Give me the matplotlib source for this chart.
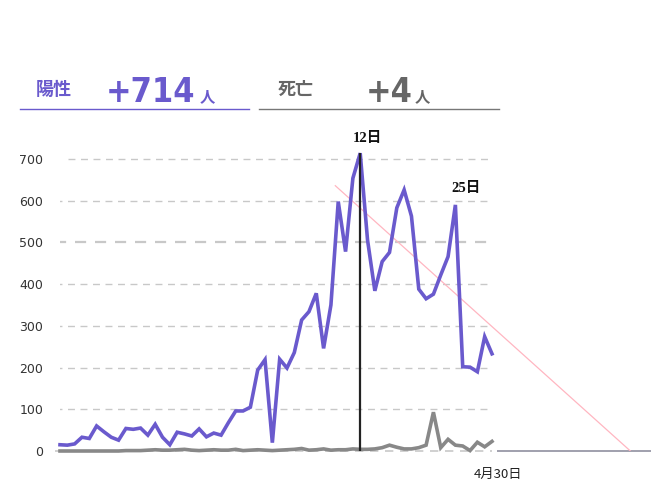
import matplotlib
matplotlib.use("Agg")
import matplotlib.pyplot as plt

# ---- data ----
day_labels = [f"3月{d}日" for d in range(2, 32)] + [f"4月{d}日" for d in range(1, 31)]
positives = [15, 14, 17, 33, 30, 60, 46, 33, 26, 54, 52, 55, 38, 64, 33, 15, 45, 41, 36, 53,
             34, 43, 38, 68, 96, 96, 105, 194, 219,
             20, 220, 199, 236, 314, 334, 378, 246, 350, 598, 478, 654, 714, 506, 384, 454,
             476, 583, 626, 563, 388, 365, 376, 422, 466, 590, 202, 201, 190, 274, 233]
deaths = [0, 0, 0, 0, 0, 0, 0, 0, 0, 1, 1, 1, 2, 3, 2, 2, 3, 4, 2, 1, 2, 3, 2, 2, 4, 1, 2,
          3, 2, 1, 2, 3, 4,
          6, 2, 3, 5, 2, 3, 3, 5, 4, 4, 5, 8, 14, 9, 5, 5, 8, 14, 93, 8, 28, 14, 12, 1, 21, 10, 23]
yticks = [0, 100, 200, 300, 400, 500, 600, 700]
selected_idx = 41        # 4月12日
second_peak_idx = 54     # 4月25日
trend_x = [37.6, 77.9]
trend_y = [636, 0]
header_pos = "+714"
header_death = "+4"

PURPLE = "#6a5acd"
GRAY = "#888888"

W, H = 651, 494
fig = plt.figure(figsize=(W / 100, H / 100), dpi=100)

# axes geometry (pixels)
x0_px, step_px = 60, 432 / 59
y0_px, unit_px = 451, 292 / 700
xmax = (W - x0_px) / step_px
ymax = 750
ax = fig.add_axes([x0_px / W, (H - y0_px) / H, 1 - x0_px / W, ymax * unit_px / H])
ax.set_xlim(0, xmax)
ax.set_ylim(0, ymax)
for s in ax.spines.values():
    s.set_visible(False)
ax.set_xticks([])
ax.set_yticks(yticks)
ax.set_yticklabels([str(v) for v in yticks], fontsize=9, color="#333333",
                   family="DejaVu Sans")
ax.tick_params(axis="y", length=0, pad=12)

n = len(positives)
xs = list(range(n))

# grid
for v in yticks:
    if v == 0:
        continue
    ax.hlines(v, -0.7 if v != 700 else 1.1, n - 1, colors="#c8c8c8",
              linestyles=(0, (5, 4)), linewidth=1.0 if v != 500 else 1.6, zorder=1)
ax.hlines(0, -0.7, n - 1, colors="#c8c8c8", linestyles=(0, (5, 4)), linewidth=1.2,
          zorder=1, clip_on=False)
ax.vlines(n - 1 + 0.1, -0.5, 0, colors="#aaaaaa", linewidth=1, clip_on=False)
ax.hlines(0, n - 1 + 0.7, xmax, colors="#9090a0", linewidth=1.2, clip_on=False, zorder=1)

# trend line
ax.plot(trend_x, trend_y, color="#ffb6c1", linewidth=0.9, zorder=2)

# series
ax.plot(xs, deaths, color=GRAY, linewidth=2.6, zorder=3, clip_on=False,
        solid_joinstyle="miter")
ax.plot(xs, positives, color=PURPLE, linewidth=2.6, zorder=4, clip_on=False,
        solid_joinstyle="miter")

# selected day vertical line
ax.vlines(selected_idx, 0, positives[selected_idx], colors="#222222", linewidth=1.6, zorder=5)

lab_font = ["Liberation Serif", "Noto Sans CJK JP"]
ax.annotate(day_labels[selected_idx].split("月")[1], (selected_idx, positives[selected_idx]),
            xytext=(5, 6), textcoords="offset points", ha="center", va="bottom",
            fontsize=10.5, fontweight="bold", family=lab_font, color="#111111")
ax.annotate(day_labels[second_peak_idx].split("月")[1], (second_peak_idx, positives[second_peak_idx]),
            xytext=(8, 7), textcoords="offset points", ha="center", va="bottom",
            fontsize=10.5, fontweight="bold", family=lab_font, color="#111111")

# x label at the end
ax.annotate(day_labels[-1], (n - 1, 0), xytext=(4, -17), textcoords="offset points",
            ha="center", va="center", fontsize=9.5,
            family=["Noto Sans CJK JP", "DejaVu Sans"], color="#222222")

# ---- header ----
def px(x, y):
    return x / W, 1 - y / H

cjk = ["Noto Sans CJK JP", "DejaVu Sans"]
fig.text(*px(36, 89), "陽性", ha="left", va="center", fontsize=13, fontweight="bold",
         family=cjk, color=PURPLE)
fig.text(*px(106, 102), header_pos, ha="left", va="baseline", fontsize=24.5, fontweight="bold",
         family="DejaVu Sans", fontstretch="condensed", color=PURPLE)
fig.text(*px(200, 101), "人", ha="left", va="baseline", fontsize=11, fontweight="bold",
         family=cjk, color=PURPLE)
fig.lines.append(plt.Line2D([20 / W, 249 / W], [1 - 109 / H] * 2, color=PURPLE,
                            linewidth=1, transform=fig.transFigure))

fig.text(*px(278, 89), "死亡", ha="left", va="center", fontsize=13, fontweight="bold",
         family=cjk, color="#666666")
fig.text(*px(366, 102), header_death, ha="left", va="baseline", fontsize=24.5, fontweight="bold",
         family="DejaVu Sans", fontstretch="condensed", color="#666666")
fig.text(*px(415, 101), "人", ha="left", va="baseline", fontsize=11, fontweight="bold",
         family=cjk, color="#666666")
fig.lines.append(plt.Line2D([259 / W, 499 / W], [1 - 109 / H] * 2, color="#777777",
                            linewidth=1, transform=fig.transFigure))

fig.savefig("out.png", dpi=100)
